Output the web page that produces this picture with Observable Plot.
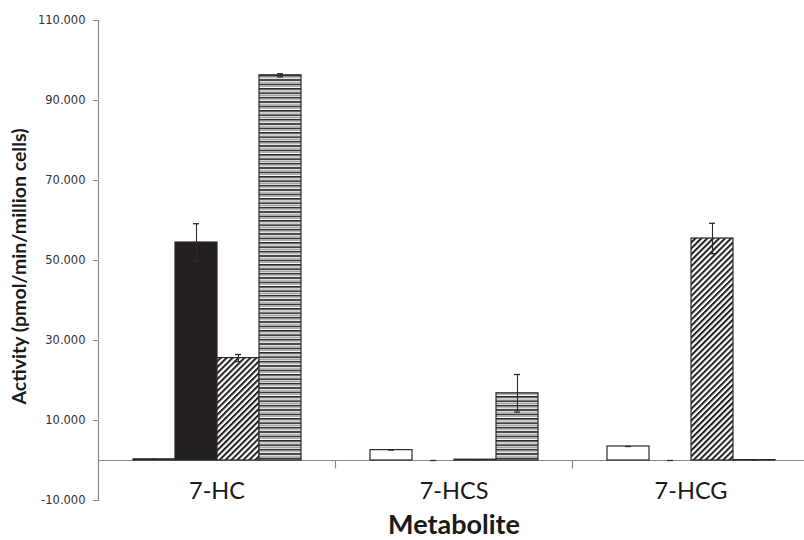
<!DOCTYPE html>
<html><head><meta charset="utf-8">
<script src="https://cdn.jsdelivr.net/npm/d3@7"></script>
<script src="https://cdn.jsdelivr.net/npm/@observablehq/plot@0.6"></script>
<style>body{margin:0;background:#fff} #chart{width:804px;height:540px}</style>
</head><body><div id="chart"></div>
<script>
const metabolites = ["7-HC", "7-HCS", "7-HCG"];
const seriesNames = ["Series 1", "Series 2", "Series 3", "Series 4"];
const series1Values = [0.3, 2.6, 3.5];
const series1Errors = [0, 0, 0];
const series2Values = [54.5, 0, 0];
const series2Errors = [4.7, 0, 0];
const series3Values = [25.6, 0.2, 55.5];
const series3Errors = [0.9, 0, 3.8];
const series4Values = [96.3, 16.8, 0.1];
const series4Errors = [0.4, 4.7, 0];
const yTicks = [-10, 10, 30, 50, 70, 90, 110];
const yLabel = "Activity (pmol/min/million cells)";
const xLabel = "Metabolite";

const valueLists = [series1Values, series2Values, series3Values, series4Values];
const errorLists = [series1Errors, series2Errors, series3Errors, series4Errors];
const fills = ["#ffffff", "#231f20", "url(#diag)", "url(#hstripe)"];

const rows = [];
metabolites.forEach((m, i) => {
  seriesNames.forEach((s, k) => {
    rows.push({metabolite: m, series: s, k, value: valueLists[k][i], error: errorLists[k][i]});
  });
});

const axisGray = "#8a8a8a";
const ink = "#2b2b2b";
const lineSymbol = {draw(ctx) { ctx.moveTo(0, 0); ctx.lineTo(0, 8); }};

const barMarks = seriesNames.map((s, k) =>
  Plot.barY(rows.filter(d => d.k === k), {
    fx: "metabolite", x: "series", y: "value",
    fill: fills[k], stroke: ink, strokeWidth: 1.2
  })
);

const svg = Plot.plot({
  width: 804,
  height: 540,
  marginLeft: 97,
  marginRight: -5,
  marginTop: 20,
  marginBottom: 40,
  style: {fontFamily: "Lato, sans-serif", background: "#fff", overflow: "visible"},
  fx: {domain: metabolites, padding: 0, axis: null, label: null},
  x: {domain: seriesNames, paddingInner: 0, paddingOuter: 0.76, axis: null, label: null},
  y: {domain: [-10, 110], label: null},
  marks: [
    Plot.ruleY([0], {stroke: axisGray, strokeWidth: 1.2}),
    Plot.frame({anchor: "left", stroke: axisGray, strokeWidth: 1.2, fx: () => metabolites[0]}),
    Plot.dot(metabolites, {fx: d => d, y: 0, frameAnchor: "right", symbol: lineSymbol, stroke: axisGray, strokeWidth: 1.2, fill: "none", r: 4}),
    Plot.axisY({ticks: yTicks, tickFormat: d => d.toFixed(3), tickSize: 5, tickPadding: 8, fontSize: 11.5, fontFamily: "DejaVu Sans", stroke: axisGray, color: "#333", label: null}),
    ...barMarks,
    Plot.ruleX(rows.filter(d => d.error > 0), {fx: "metabolite", x: "series", y1: d => d.value - d.error, y2: d => d.value + d.error, stroke: ink, strokeWidth: 1.1}),
    Plot.tickY(rows, {fx: "metabolite", x: "series", y: d => d.value + d.error, stroke: ink, strokeWidth: 1.3, insetLeft: 18, insetRight: 18}),
    Plot.tickY(rows.filter(d => d.error > 0), {fx: "metabolite", x: "series", y: d => d.value - d.error, stroke: ink, strokeWidth: 1.3, insetLeft: 18, insetRight: 18}),
    Plot.axisFx({anchor: "bottom", tickSize: 0, tickPadding: 0, dy: -18, fontSize: 23.5, fontFamily: "Lato, sans-serif", color: "#1a1a1a", label: null}),
    Plot.text([xLabel], {fx: () => metabolites[1], frameAnchor: "bottom", dy: 33, fontSize: 27, fontWeight: "bold", fill: "#1a1a1a"}),
    Plot.text([yLabel], {fx: () => metabolites[0], frameAnchor: "left", textAnchor: "middle", rotate: -90, dx: -79, dy: 6, fontSize: 19.5, fontWeight: "bold", fill: "#1a1a1a"})
  ]
});

d3.select(svg).insert("defs", ":first-child").html(`
  <pattern id="diag" patternUnits="userSpaceOnUse" width="4.2" height="4.2" patternTransform="rotate(45)">
    <rect width="4.2" height="4.2" fill="#ffffff"/>
    <line x1="1" y1="0" x2="1" y2="4.2" stroke="#231f20" stroke-width="2"/>
  </pattern>
  <pattern id="hstripe" patternUnits="userSpaceOnUse" width="10" height="4.4">
    <rect width="10" height="4.4" fill="#ffffff"/>
    <rect y="0" width="10" height="1.6" fill="#262626"/>
    <rect y="2.4" width="10" height="1.1" fill="#9a9a9a"/>
  </pattern>`);

document.getElementById("chart").appendChild(svg);
</script>
</body></html>
